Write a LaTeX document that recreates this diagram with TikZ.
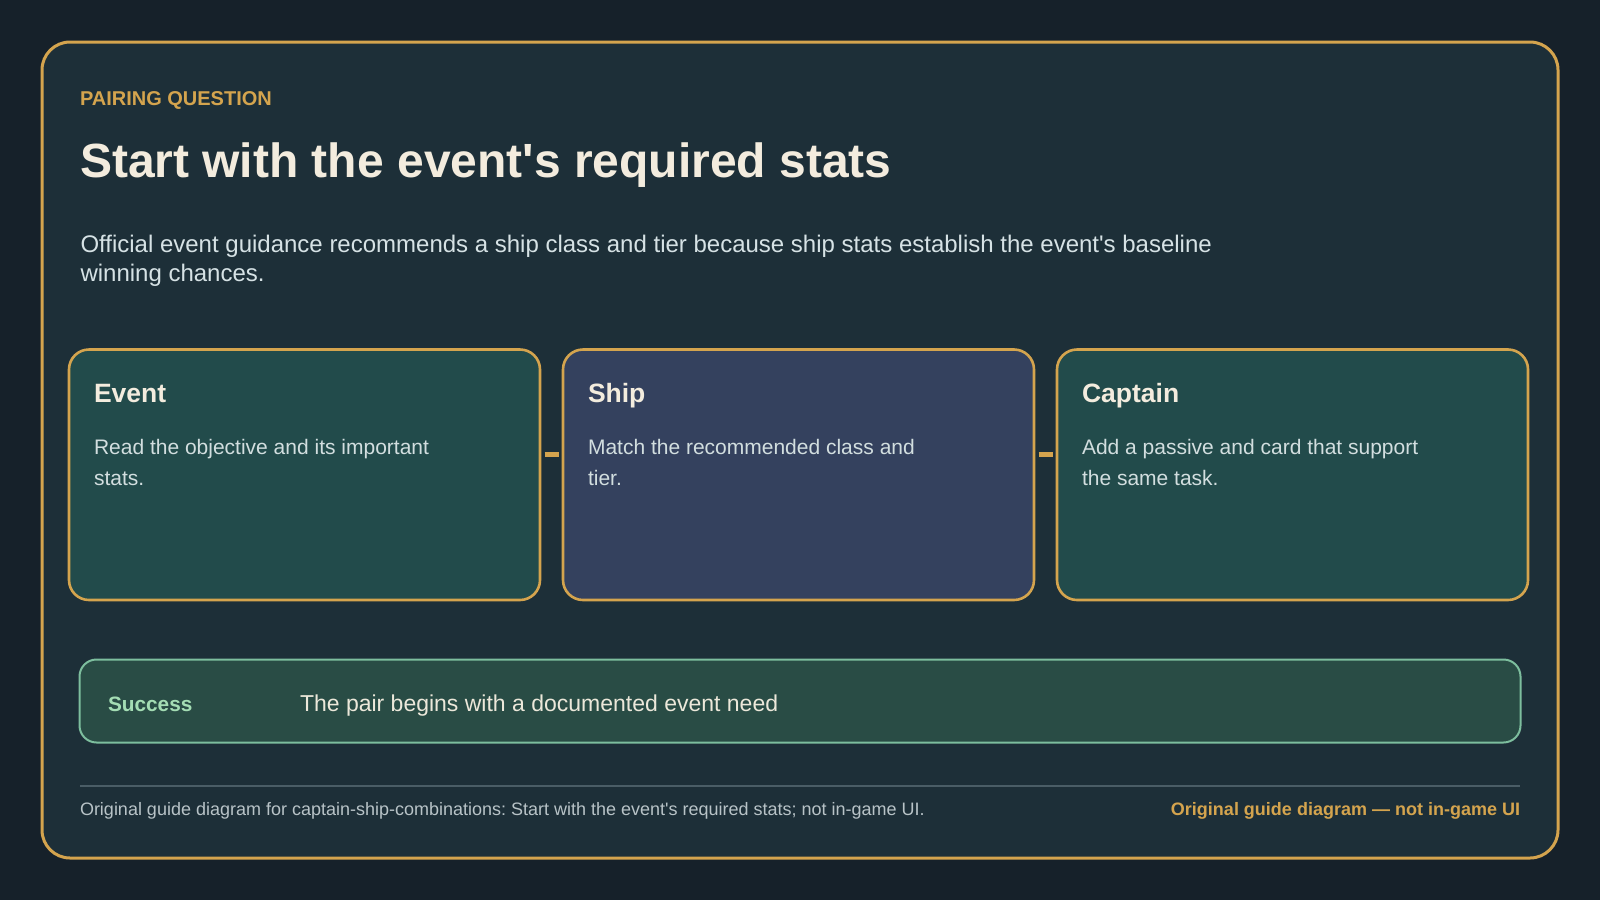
\documentclass[tikz,border=0pt]{standalone}
\usepackage{fontspec}
\setmainfont{Liberation Sans}
\usetikzlibrary{calc}
\frenchspacing
\definecolor{bgout}{HTML}{16212A}
\definecolor{panelbg}{HTML}{1D2F38}
\definecolor{gold}{HTML}{D4A44E}
\definecolor{cream}{HTML}{F3ECDE}
\definecolor{subtxt}{HTML}{D6E2E5}
\definecolor{tealcard}{HTML}{224B4B}
\definecolor{shipcard}{HTML}{34415E}
\definecolor{bodytxt}{HTML}{D2DEDF}
\definecolor{succfill}{HTML}{294C45}
\definecolor{succline}{HTML}{7DBE9E}
\definecolor{succtxt}{HTML}{A4DDB4}
\definecolor{needtxt}{HTML}{ECE8DA}
\definecolor{divider}{HTML}{4A5D66}
\definecolor{foottxt}{HTML}{B8C3C7}
\newcommand{\twolines}[2]{\begin{tabular}[t]{@{}l@{}}#1\\#2\end{tabular}}
\tikzset{
  frame/.style={draw=gold, line width=3pt, fill=panelbg, rounded corners=28pt, inner sep=0pt, outer sep=0pt, anchor=north west},
  card/.style={draw=gold, line width=2.6pt, rounded corners=20pt, minimum width=471pt, minimum height=250.5pt, inner sep=0pt, outer sep=0pt, anchor=north west},
  succbox/.style={draw=succline, line width=2pt, fill=succfill, rounded corners=17pt, minimum width=1441pt, minimum height=83pt, inner sep=0pt, outer sep=0pt, anchor=north west},
  txt/.style={inner sep=0pt, outer sep=0pt, anchor=base west},
  kicker/.style={txt, text=gold, font=\fontsize{20}{24}\selectfont\bfseries},
  headline/.style={txt, text=cream, font=\fontsize{48}{56}\selectfont\bfseries},
  lead/.style={txt, text=subtxt, font=\fontsize{24}{29.4}\selectfont},
  cardtitle/.style={txt, text=cream, font=\fontsize{26.5}{31}\selectfont\bfseries},
  cardbody/.style={txt, text=bodytxt, font=\fontsize{21}{30.7}\selectfont},
  conn/.style={draw=gold, line width=5pt, shorten <=4.5pt, shorten >=4.5pt},
  succlabel/.style={txt, text=succtxt, font=\fontsize{20.8}{25}\selectfont\bfseries},
  succtext/.style={txt, text=needtxt, font=\fontsize{23}{28}\selectfont},
  footl/.style={txt, text=foottxt, font=\fontsize{18}{22}\selectfont},
  footr/.style={inner sep=0pt, outer sep=0pt, anchor=base east, text=gold, font=\fontsize{18}{22}\selectfont\bfseries}
}
\begin{document}
\begin{tikzpicture}[x=1pt,y=-1pt]
\fill[bgout] (0,0) rectangle (1600,900);
\useasboundingbox (0,0) rectangle (1600,900);
\node[frame, minimum width=1516pt, minimum height=816pt] (frm) at (42,42) {};

\node[kicker] (kick) at (80,105) {PAIRING QUESTION};
\node[headline] (head) at (80,177.3) {Start with the event\textquotesingle s required stats};
\node[lead] (lead) at (80.5,252.3) {\twolines{Official event guidance recommends a ship class and tier because ship stats establish the event\textquotesingle s baseline}{winning chances.}};

\node[card, fill=tealcard] (ev) at (69,349.5) {};
\node[card, fill=shipcard] (sh) at (563,349.5) {};
\node[card, fill=tealcard] (cp) at (1057,349.5) {};

\node[cardtitle] (evt) at (94,402.3) {Event};
\node[cardbody] (evb) at (94,454.3) {\twolines{Read the objective and its important}{stats.}};
\node[cardtitle] (sht) at (588,402.3) {Ship};
\node[cardbody] (shb) at (588,454.3) {\twolines{Match the recommended class and}{tier.}};
\node[cardtitle] (cpt) at (1082,402.3) {Captain};
\node[cardbody] (cpb) at (1082,454.3) {\twolines{Add a passive and card that support}{the same task.}};

\draw[conn] ([yshift=20pt]ev.east) -- ([yshift=20pt]sh.west);
\draw[conn] ([yshift=20pt]sh.east) -- ([yshift=20pt]cp.west);

\node[succbox] (succ) at (79.5,659.5) {};
\node[succlabel] (sl) at (108,711) {Success};
\node[succtext] (st) at (300,711) {The pair begins with a documented event need};

\coordinate (dl) at (80,785.7);
\coordinate (dr) at (1520,785.7);
\draw[divider, line width=2pt] (dl) -- (dr);

\node[footl] (fl) at (80,815) {Original guide diagram for captain-ship-combinations: Start with the event\textquotesingle s required stats; not in-game UI.};
\node[footr] (fr) at (1520,815) {Original guide diagram — not in-game UI};
\end{tikzpicture}
\end{document}
